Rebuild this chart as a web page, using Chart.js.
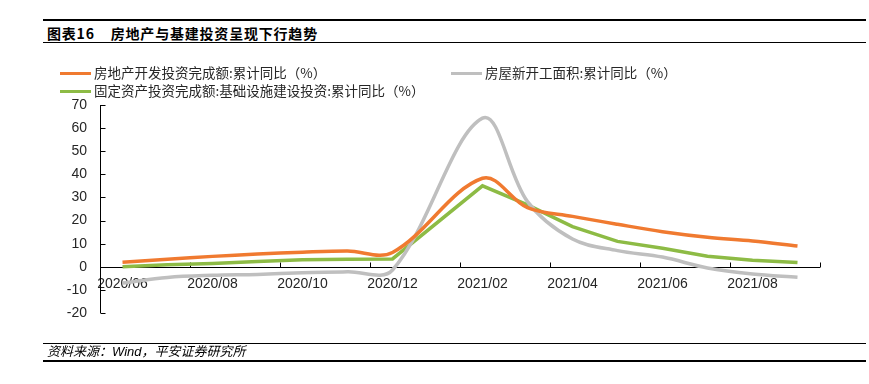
<!DOCTYPE html>
<html>
<head>
<meta charset="utf-8">
<script src="https://cdn.jsdelivr.net/npm/chart.js@4.4.0/dist/chart.umd.min.js"></script>
<style>
  body { margin: 0; background: #fff; width: 869px; height: 384px; position: relative; overflow: hidden;
         font-family: "Liberation Sans", "Noto Sans CJK SC", sans-serif; }
  .rule { position: absolute; left: 43px; right: 3px; background: #000; }
  .title { position: absolute; left: 47px; top: 23px; font-family: "Noto Sans CJK SC", sans-serif;
           font-weight: bold; font-size: 14px; line-height: 20px; color: #000; letter-spacing: 0.8px; }
  .title span + span { margin-left: 16px; }
  .source { position: absolute; left: 47px; top: 343px; font-family: "Liberation Sans", "Noto Sans CJK SC", sans-serif;
            font-style: italic; font-size: 13px; line-height: 18px; color: #000; }
  .legend-item { position: absolute; font-family: "Noto Sans CJK SC", sans-serif; font-size: 13.5px;
                 line-height: 18px; color: #262626; white-space: nowrap; }
  .legend-item i { display: inline-block; width: 31px; height: 3.5px; vertical-align: middle; margin-right: 3px;
                   position: relative; top: -1px; }
  #wrap { position: absolute; left: 0; top: 0; width: 869px; height: 384px; }
</style>
</head>
<body>
<div class="rule" style="top:19px;height:2px;"></div>
<div class="title"><span>图表16</span><span>房地产与基建投资呈现下行趋势</span></div>
<div class="rule" style="top:42px;height:1.3px;"></div>

<div id="wrap"><canvas id="chart"></canvas></div>

<div class="legend-item" style="left:60px;top:63px;"><i style="background:#F07A30"></i>房地产开发投资完成额:累计同比（%）</div>
<div class="legend-item" style="left:451px;top:63px;"><i style="background:#BFBFBF"></i>房屋新开工面积:累计同比（%）</div>
<div class="legend-item" style="left:60px;top:81px;"><i style="background:#8DBB45"></i>固定资产投资完成额:基础设施建设投资:累计同比（%）</div>

<div class="rule" style="top:343px;height:1px;"></div>
<div class="source">资料来源：Wind，平安证券研究所</div>
<div class="rule" style="top:360px;height:1.5px;"></div>

<script>
const months = ['2020/06', '2020/07', '2020/08', '2020/09', '2020/10', '2020/11', '2020/12', '2021/01',
                '2021/02', '2021/03', '2021/04', '2021/05', '2021/06', '2021/07', '2021/08', '2021/09'];
// 2021/01 has no cumulative figure, so it stays empty
const realEstateInv = [2.0, 3.3, 4.5, 5.5, 6.3, 6.8, 6.2, null, 38.3, 25.6, 21.8, 18.4, 15.2, 12.8, 11.2, 9.0];
const newStarts = [-7.0, -4.6, -3.7, -3.3, -2.6, -2.2, -1.4, null, 64.3, 28.2, 12.0, 7.0, 4.2, -0.5, -3.1, -4.5];
const infraInv = [0.0, 0.9, 1.4, 2.3, 3.0, 3.3, 3.4, null, 35.0, 26.8, 17.4, 11.0, 8.0, 4.6, 2.8, 1.8];

const yTicks = [-20, -10, 0, 10, 20, 30, 40, 50, 60, 70];

Chart.defaults.font.family = '"Liberation Sans", Arial, sans-serif';
Chart.defaults.font.size = 14;
Chart.defaults.color = '#262626';

// axis lines with short ticks pointing into the plot, as in the source chart
const axisTicks = {
    id: 'axisTicks',
    beforeDatasetsDraw(chart) {
        const { ctx, chartArea, scales: { x, y } } = chart;
        const y0 = Math.round(y.getPixelForValue(0)) + 0.5;
        const left = Math.round(chartArea.left) + 0.5;
        const step = (x.right - x.left) / months.length;
        ctx.save();
        ctx.strokeStyle = '#000';
        ctx.lineWidth = 1;
        ctx.beginPath();
        ctx.moveTo(left, y.getPixelForValue(yTicks[0]));
        ctx.lineTo(left, y.getPixelForValue(yTicks[yTicks.length - 1]));
        yTicks.forEach(v => {
            const py = Math.round(y.getPixelForValue(v)) + 0.5;
            ctx.moveTo(left, py);
            ctx.lineTo(left + 5, py);
        });
        ctx.moveTo(left, y0);
        ctx.lineTo(x.right, y0);
        for (let i = 2; i <= months.length; i += 2) {
            const px = Math.round(x.left + i * step) + 0.5;
            ctx.moveTo(px, y0);
            ctx.lineTo(px, y0 - 5);
        }
        ctx.stroke();
        ctx.restore();
    }
};

const lineStyle = { borderWidth: 3.5, pointRadius: 0, fill: false, spanGaps: true };

new Chart(document.getElementById('chart'), {
    type: 'line',
    data: {
        labels: months,
        datasets: [
            { label: '房地产开发投资完成额:累计同比（%）', data: realEstateInv, borderColor: '#F07A30', tension: 0.35, ...lineStyle },
            { label: '房屋新开工面积:累计同比（%）', data: newStarts, borderColor: '#BFBFBF', tension: 0.35, ...lineStyle },
            { label: '固定资产投资完成额:基础设施建设投资:累计同比（%）', data: infraInv, borderColor: '#8DBB45', tension: 0, ...lineStyle }
        ]
    },
    options: {
        responsive: true,
        maintainAspectRatio: false,
        animation: false,
        layout: { padding: { left: 40, right: 49, top: 105, bottom: 71 } },
        plugins: { legend: { display: false }, tooltip: { enabled: false } },
        scales: {
            x: {
                position: { y: 0 },
                offset: true,
                grid: { display: false, drawTicks: false },
                border: { display: false },
                ticks: {
                    autoSkip: false,
                    maxRotation: 0,
                    padding: 9,
                    callback: (v, i) => (i % 2 === 0 ? months[i] : '')
                }
            },
            y: {
                min: -20,
                max: 70,
                afterFit: scale => { scale.width = 60; },
                grid: { display: false, drawTicks: false },
                border: { display: false },
                ticks: { stepSize: 10, padding: 13 }
            }
        }
    },
    plugins: [axisTicks]
});
</script>
</body>
</html>
